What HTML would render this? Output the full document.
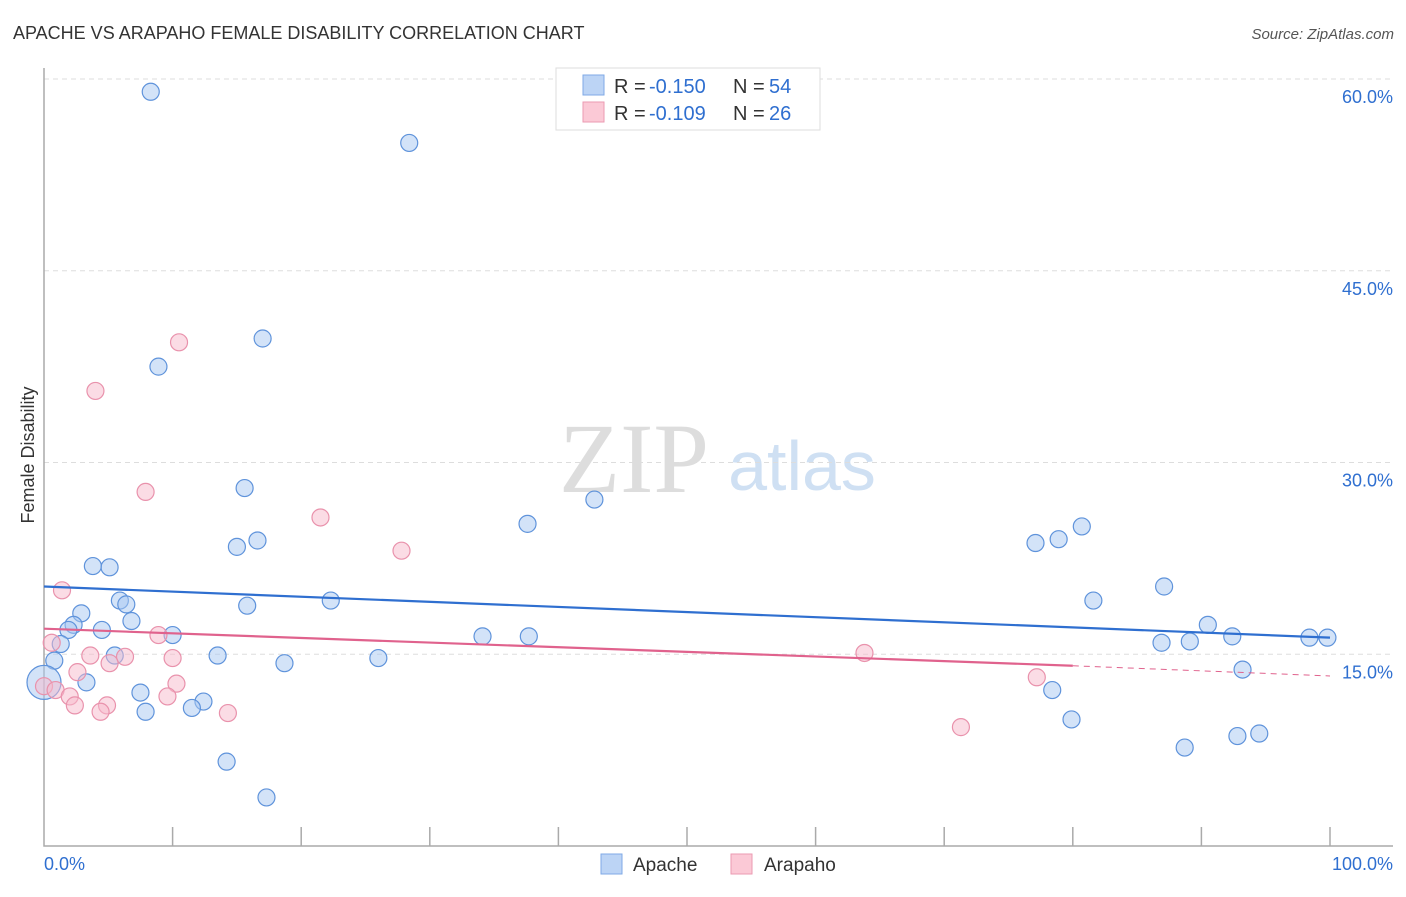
<!DOCTYPE html>
<html><head><meta charset="utf-8">
<style>
body{margin:0;background:#fff;font-family:"Liberation Sans",sans-serif;}
svg text{font-family:"Liberation Sans",sans-serif;}
svg text.serif{font-family:"Liberation Serif",serif;}
</style></head>
<body>
<svg id="chart" width="1406" height="892" xmlns="http://www.w3.org/2000/svg">
<text x="13" y="39" font-size="18" fill="#333">APACHE VS ARAPAHO FEMALE DISABILITY CORRELATION CHART</text>
<text x="1394" y="39" font-size="15" fill="#555" font-style="italic" text-anchor="end">Source: ZipAtlas.com</text>
<text x="34" y="455" font-size="18" fill="#333" text-anchor="middle" transform="rotate(-90 34 455)">Female Disability</text>
<g>
<text class="serif" x="634" y="492" font-size="100" fill="#ddd" text-anchor="middle">ZIP</text>
<text x="802" y="490" font-size="70" fill="#cfe0f3" text-anchor="middle">atlas</text>
</g>
<g id="grid"></g>
<g id="axes"></g>
<g id="marks"></g>
<g>
<rect x="556" y="68" width="264" height="62" fill="#fff" stroke="#ddd"/>
<rect x="583" y="75" width="21" height="20" fill="#bcd4f5" stroke="#7fa9e6"/>
<text x="614" y="93" font-size="20" fill="#333">R =</text>
<text x="649" y="93" font-size="20" fill="#2f6fd0">-0.150</text>
<text x="733" y="93" font-size="20" fill="#333">N =</text>
<text x="769" y="93" font-size="20" fill="#2f6fd0">54</text>
<rect x="583" y="102" width="21" height="20" fill="#fbc9d6" stroke="#eb9ab2"/>
<text x="614" y="120" font-size="20" fill="#333">R =</text>
<text x="649" y="120" font-size="20" fill="#2f6fd0">-0.109</text>
<text x="733" y="120" font-size="20" fill="#333">N =</text>
<text x="769" y="120" font-size="20" fill="#2f6fd0">26</text>
</g>
<g>
<rect x="601" y="854" width="21" height="20" fill="#bcd4f5" stroke="#7fa9e6"/>
<text x="633" y="871" font-size="19" fill="#333">Apache</text>
<rect x="731" y="854" width="21" height="20" fill="#fbc9d6" stroke="#eb9ab2"/>
<text x="764" y="871" font-size="19" fill="#333">Arapaho</text>
</g>
</svg>
<script>
const yTicks=[15,30,45,60];
const yTickLabels=["15.0%","30.0%","45.0%","60.0%"];
const xTickLabels=["0.0%","100.0%"];
const apacheX=[8.3,28.4,17.0,8.9,15.6,42.8,37.6,80.7,16.6,15.0,77.1,78.9,3.8,5.1,87.1,5.9,81.6,6.4,15.8,22.3,2.9,6.8,2.3,1.9,4.5,10.0,90.5,92.4,98.4,99.8,34.1,37.7,86.9,89.1,1.3,13.5,5.5,26.0,0.8,18.7,93.2,0,3.3,7.5,78.4,12.4,11.5,7.9,79.9,94.5,92.8,88.7,14.2,17.3];
const apacheY=[59.0,55.0,39.7,37.5,28.0,27.1,25.2,25.0,23.9,23.4,23.7,24.0,21.9,21.8,20.3,19.2,19.2,18.9,18.8,19.2,18.2,17.6,17.3,16.9,16.9,16.5,17.3,16.4,16.3,16.3,16.4,16.4,15.9,16.0,15.8,14.9,14.9,14.7,14.5,14.3,13.8,12.8,12.8,12.0,12.2,11.3,10.8,10.5,9.9,8.8,8.6,7.7,6.6,3.8];
const arapahoX=[10.5,4.0,7.9,21.5,27.8,1.4,0.6,8.9,3.6,6.3,10.0,5.1,63.8,2.6,77.2,10.3,0,0.9,2.0,9.6,2.4,4.9,4.4,14.3,71.3];
const arapahoY=[39.4,35.6,27.7,25.7,23.1,20.0,15.9,16.5,14.9,14.8,14.7,14.3,15.1,13.6,13.2,12.7,12.5,12.2,11.7,11.7,11.0,11.0,10.5,10.4,9.3];
const apacheTrend=[20.3,16.3];
const arapahoTrend=[17.0,14.1,13.3];
const NS="http://www.w3.org/2000/svg";
const X0=44,X1=1330,Y0=846,Y60=79;
const sx=v=>X0+(X1-X0)*v/100;
const sy=v=>Y0-(Y0-Y60)*v/60;
function mk(tag,attrs,parent){const e=document.createElementNS(NS,tag);for(const k in attrs)e.setAttribute(k,attrs[k]);parent.appendChild(e);return e;}
const grid=document.getElementById('grid'),axes=document.getElementById('axes'),marks=document.getElementById('marks');
yTicks.forEach((t,i)=>{
 const l=mk('line',{x1:44,x2:1393,y1:sy(t),y2:sy(t),stroke:'#ddd','stroke-dasharray':'5,4'},grid);
 
 
 const tx=mk('text',{x:1393,y:sy(t)+24,'font-size':18,fill:'#2f6fd0','text-anchor':'end'},axes);
 tx.textContent=yTickLabels[i];
 
 
});
const ax=mk('path',{d:`M44 68 V${Y0} H1393`,fill:'none',stroke:'#aaa','stroke-width':1.5},axes);


for(let i=1;i<=10;i++){
 const x=sx(i*10);
 const t=mk('line',{x1:x,x2:x,y1:827,y2:Y0,stroke:'#aaa','stroke-width':1.5},axes);
 
 
}
const xl0=mk('text',{x:44,y:870,'font-size':18,fill:'#2f6fd0'},axes);xl0.textContent=xTickLabels[0];


const xl1=mk('text',{x:1393,y:870,'font-size':18,fill:'#2f6fd0','text-anchor':'end'},axes);xl1.textContent=xTickLabels[1];


function pts(xs,ys,fill,stroke,name){
 xs.forEach((v,i)=>{
  const big=(v===0&&name==='apache-point');
  const c=mk('circle',{cx:sx(v),cy:sy(ys[i]),r:big?17:8.5,fill:fill,stroke:stroke,'stroke-width':1.2},marks);
  
  
 });
}
pts(apacheX,apacheY,'rgba(168,200,242,0.5)','#5f93db','apache-point');
pts(arapahoX,arapahoY,'rgba(248,186,204,0.5)','#e992ac','arapaho-point');
const tl1=mk('line',{x1:sx(0),y1:sy(apacheTrend[0]),x2:sx(100),y2:sy(apacheTrend[1]),stroke:'#2f6fd0','stroke-width':2.2},marks);


const tl2=mk('line',{x1:sx(0),y1:sy(arapahoTrend[0]),x2:sx(80),y2:sy(arapahoTrend[1]),stroke:'#e0628d','stroke-width':2.2},marks);


const tl3=mk('line',{x1:sx(80),y1:sy(arapahoTrend[1]),x2:sx(100),y2:sy(arapahoTrend[2]),stroke:'#e0628d','stroke-width':1,'stroke-dasharray':'6,5'},marks);


</script>
</body></html>
